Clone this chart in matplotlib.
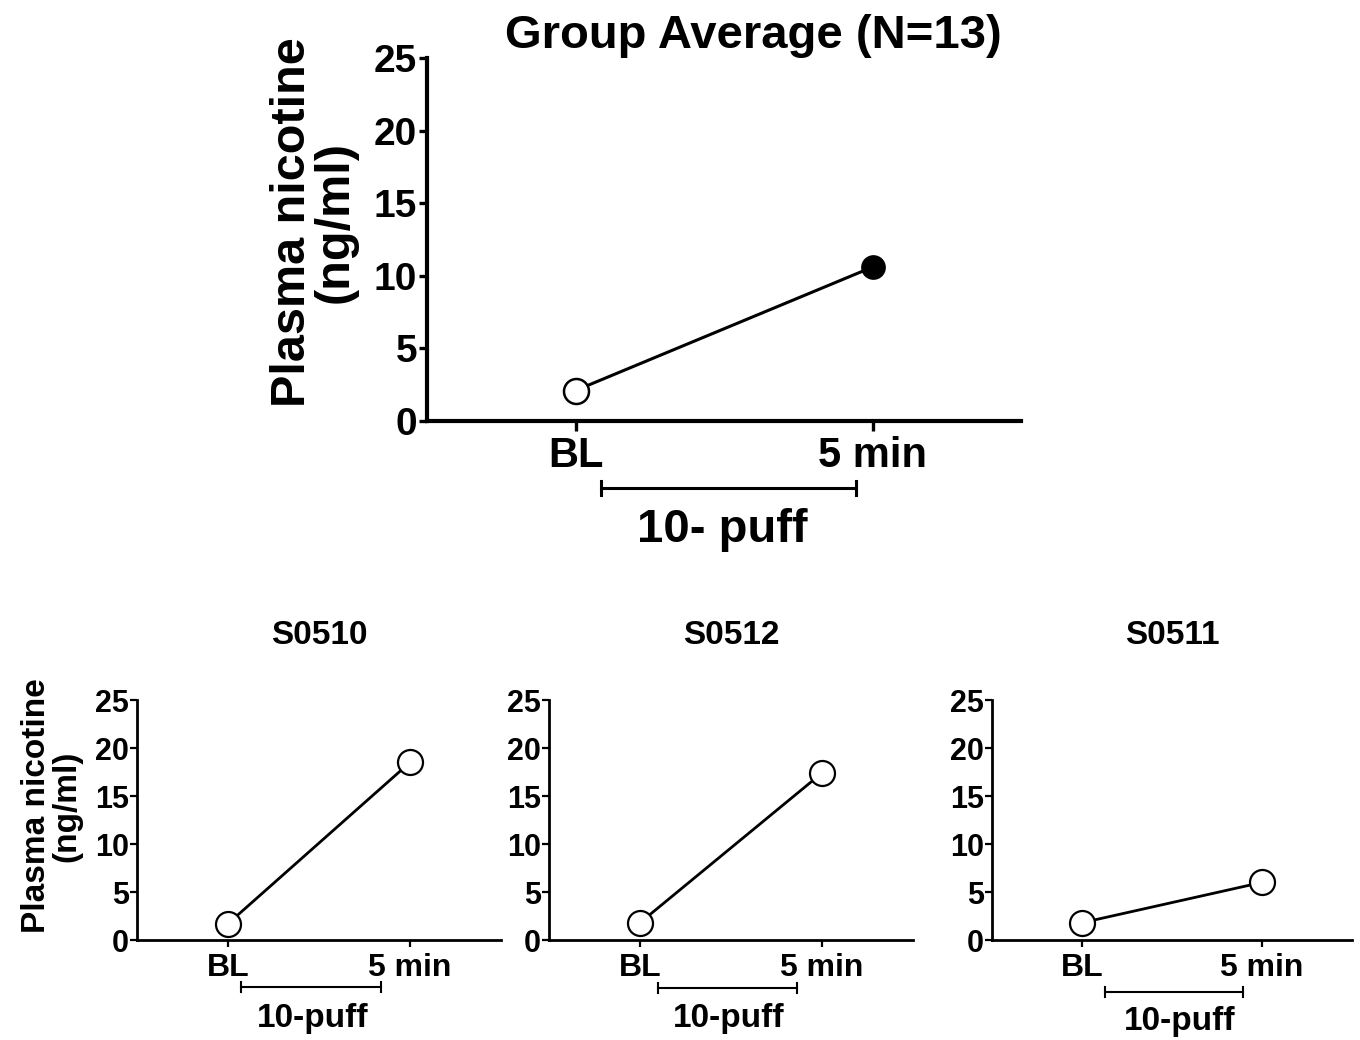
import matplotlib
matplotlib.use("Agg")
import matplotlib.pyplot as plt
import matplotlib.transforms as mtransforms

plt.rcParams['font.family'] = ['Liberation Sans', 'DejaVu Sans']
plt.rcParams['font.weight'] = 'bold'

# data
timepoints = ["BL", "5 min"]
group_title = "Group Average (N=13)"
group_values = [2.1, 10.6]
subjects = ["S0510", "S0512", "S0511"]
subject_values = [[1.7, 18.5], [1.8, 17.4], [1.8, 6.0]]
yticks = [0, 5, 10, 15, 20, 25]
ylabel = "Plasma nicotine\n(ng/ml)"

fig = plt.figure(figsize=(13.6, 10.4), dpi=100)


def style_axes(ax, lw, tick_fs, tick_len):
    ax.spines['top'].set_visible(False)
    ax.spines['right'].set_visible(False)
    ax.spines['left'].set_linewidth(lw)
    ax.spines['bottom'].set_linewidth(lw)
    ax.set_xlim(-0.5, 1.5)
    ax.set_ylim(0, 25)
    ax.set_yticks(yticks)
    ax.set_xticks(range(len(timepoints)))
    ax.set_xticklabels(timepoints)
    ax.tick_params(axis='both', width=lw * 0.8, length=tick_len, labelsize=tick_fs, pad=1)
    ax.tick_params(axis='x', pad=4)
    for lab in ax.get_xticklabels() + ax.get_yticklabels():
        lab.set_fontweight('bold')


def bracket(ax, x0, x1, y, ty, tx, label, fs, lw, cap):
    tr = mtransforms.blended_transform_factory(ax.transData, ax.transAxes)
    ax.plot([x0, x1], [y, y], color='black', lw=lw, transform=tr, clip_on=False)
    for xx in (x0, x1):
        ax.plot([xx, xx], [y - cap, y + cap], color='black', lw=lw, transform=tr, clip_on=False)
    ax.text(tx, ty, label, transform=tr, ha='center', va='center', fontsize=fs, fontweight='bold')


# top: group average
ax0 = fig.add_axes([427 / 1360, 1 - 421 / 1040, 594 / 1360, 363 / 1040])
style_axes(ax0, 3.0, 28, 6)
ax0.tick_params(axis='x', labelsize=30, length=7)
ax0.plot([0, 1], group_values, color='black', lw=2.2, zorder=2)
ax0.plot([0], group_values[:1], 'o', ms=18, mfc='white', mec='black', mew=1.8, zorder=3, clip_on=False)
ax0.plot([1], group_values[1:], 'o', ms=16, mfc='black', mec='black', mew=1.8, zorder=3, clip_on=False)
ax0.set_title(group_title, fontsize=34, fontweight='bold', x=0.55, pad=4)
ax0.set_ylabel(ylabel, fontsize=35, fontweight='bold', linespacing=0.95)
ax0.yaxis.set_label_coords(-0.116, 0.548)
bracket(ax0, 0.0875, 0.943, -0.185, -0.30, 0.495, "10- puff", 34, 2.2, 0.02)

# bottom: individual subjects
lefts = [137, 549, 992]
widths = [364, 364, 360]
bracket_pos = [(0.07, 0.84, -0.196, -0.325, 0.467),
               (0.10, 0.86, -0.20, -0.325, 0.49),
               (0.128, 0.894, -0.217, -0.34, 0.54)]
for i, name in enumerate(subjects):
    ax = fig.add_axes([lefts[i] / 1360, 1 - 940 / 1040, widths[i] / 1360, 240 / 1040])
    style_axes(ax, 2.0, 22, 5)
    ax.tick_params(axis='x', labelsize=23, length=5)
    ax.plot([0, 1], subject_values[i], color='black', lw=2.0, zorder=2)
    ax.plot([0, 1], subject_values[i], 'o', ms=18, mfc='white', mec='black', mew=1.6, zorder=3, clip_on=False)
    ax.set_title(name, fontsize=24, fontweight='bold', x=0.5, y=1.0, pad=40)
    if i == 0:
        ax.set_ylabel(ylabel, fontsize=24, fontweight='bold', linespacing=0.95)
        ax.yaxis.set_label_coords(-0.151, 0.558)
    b = bracket_pos[i]
    bracket(ax, b[0], b[1], b[2], b[3], b[4], "10-puff", 24, 1.5, 0.02)

fig.savefig("out.png", dpi=100)
